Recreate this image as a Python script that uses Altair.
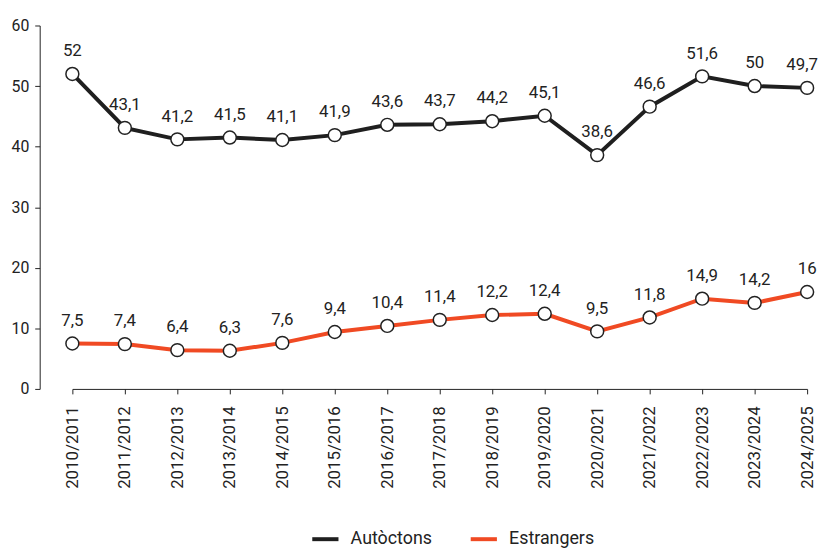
import altair as alt
import pandas as pd

years = ["2010/2011", "2011/2012", "2012/2013", "2013/2014", "2014/2015",
         "2015/2016", "2016/2017", "2017/2018", "2018/2019", "2019/2020",
         "2020/2021", "2021/2022", "2022/2023", "2023/2024", "2024/2025"]
autoctons = [52, 43.1, 41.2, 41.5, 41.1, 41.9, 43.6, 43.7, 44.2, 45.1, 38.6, 46.6, 51.6, 50, 49.7]
estrangers = [7.5, 7.4, 6.4, 6.3, 7.6, 9.4, 10.4, 11.4, 12.2, 12.4, 9.5, 11.8, 14.9, 14.2, 16]
series = ["Autòctons", "Estrangers"]
colors = ["#1f1f1f", "#f04a23"]

rows = []
for name, vals in zip(series, [autoctons, estrangers]):
    for y, v in zip(years, vals):
        rows.append({"curs": y, "serie": name, "valor": v,
                     "label": (f"{v:g}").replace(".", ",")})
df = pd.DataFrame(rows)

FONT = "Roboto"
TXT = "#222222"

x = alt.X("curs:O", sort=years, title=None,
          scale=alt.Scale(type="point", range=[33, 775], padding=0),
          axis=alt.Axis(labelAngle=-90, labelFontSize=17, labelColor=TXT,
                        tickSize=5, tickColor=TXT, domainColor=TXT,
                        labelPadding=12, labelFont=FONT, grid=False))
y = alt.Y("valor:Q", title=None,
          scale=alt.Scale(domain=[0, 60], nice=False),
          axis=alt.Axis(values=[0, 10, 20, 30, 40, 50, 60], labelFontSize=16,
                        labelColor=TXT, tickSize=5, tickColor=TXT,
                        domainColor=TXT, labelPadding=6, labelFont=FONT,
                        grid=False))

color = alt.Color("serie:N", scale=alt.Scale(domain=series, range=colors),
                  legend=alt.Legend(title=None, orient="none", direction="horizontal",
                                    legendX=273, legendY=503, padding=0,
                                    symbolType="stroke", symbolStrokeWidth=4,
                                    symbolSize=700, labelFontSize=18, labelFont=FONT,
                                    labelColor=TXT, columnPadding=30,
                                    labelOffset=10))

last_lbl = f"datum.curs == '{years[-1]}' && datum.serie == '{series[0]}'"

base = alt.Chart(df)
line = base.mark_line(strokeWidth=4).encode(x=x, y=y, color=color)
pts = base.mark_point(filled=True, fill="white", stroke=TXT, strokeWidth=1.5,
                      size=170, opacity=1).encode(x=x, y=y, detail="serie:N")
txt = base.transform_filter(f"!({last_lbl})").mark_text(
    dy=-23, fontSize=17, font=FONT, color=TXT).encode(x=x, y=y, text="label:N")
txt_last = base.transform_filter(last_lbl).mark_text(
    dy=-23, dx=11, align="right", fontSize=17, font=FONT, color=TXT).encode(
    x=x, y=y, text="label:N")

chart = alt.layer(line, pts, txt, txt_last).properties(
    width=775, height=367,
    autosize=alt.AutoSizeParams(type="none"),
    padding={"left": 32, "top": 15, "right": 13, "bottom": 160},
).configure(background="white").configure_view(stroke=None)

chart.save("out.html", embed_options={"renderer": "svg", "actions": False})
